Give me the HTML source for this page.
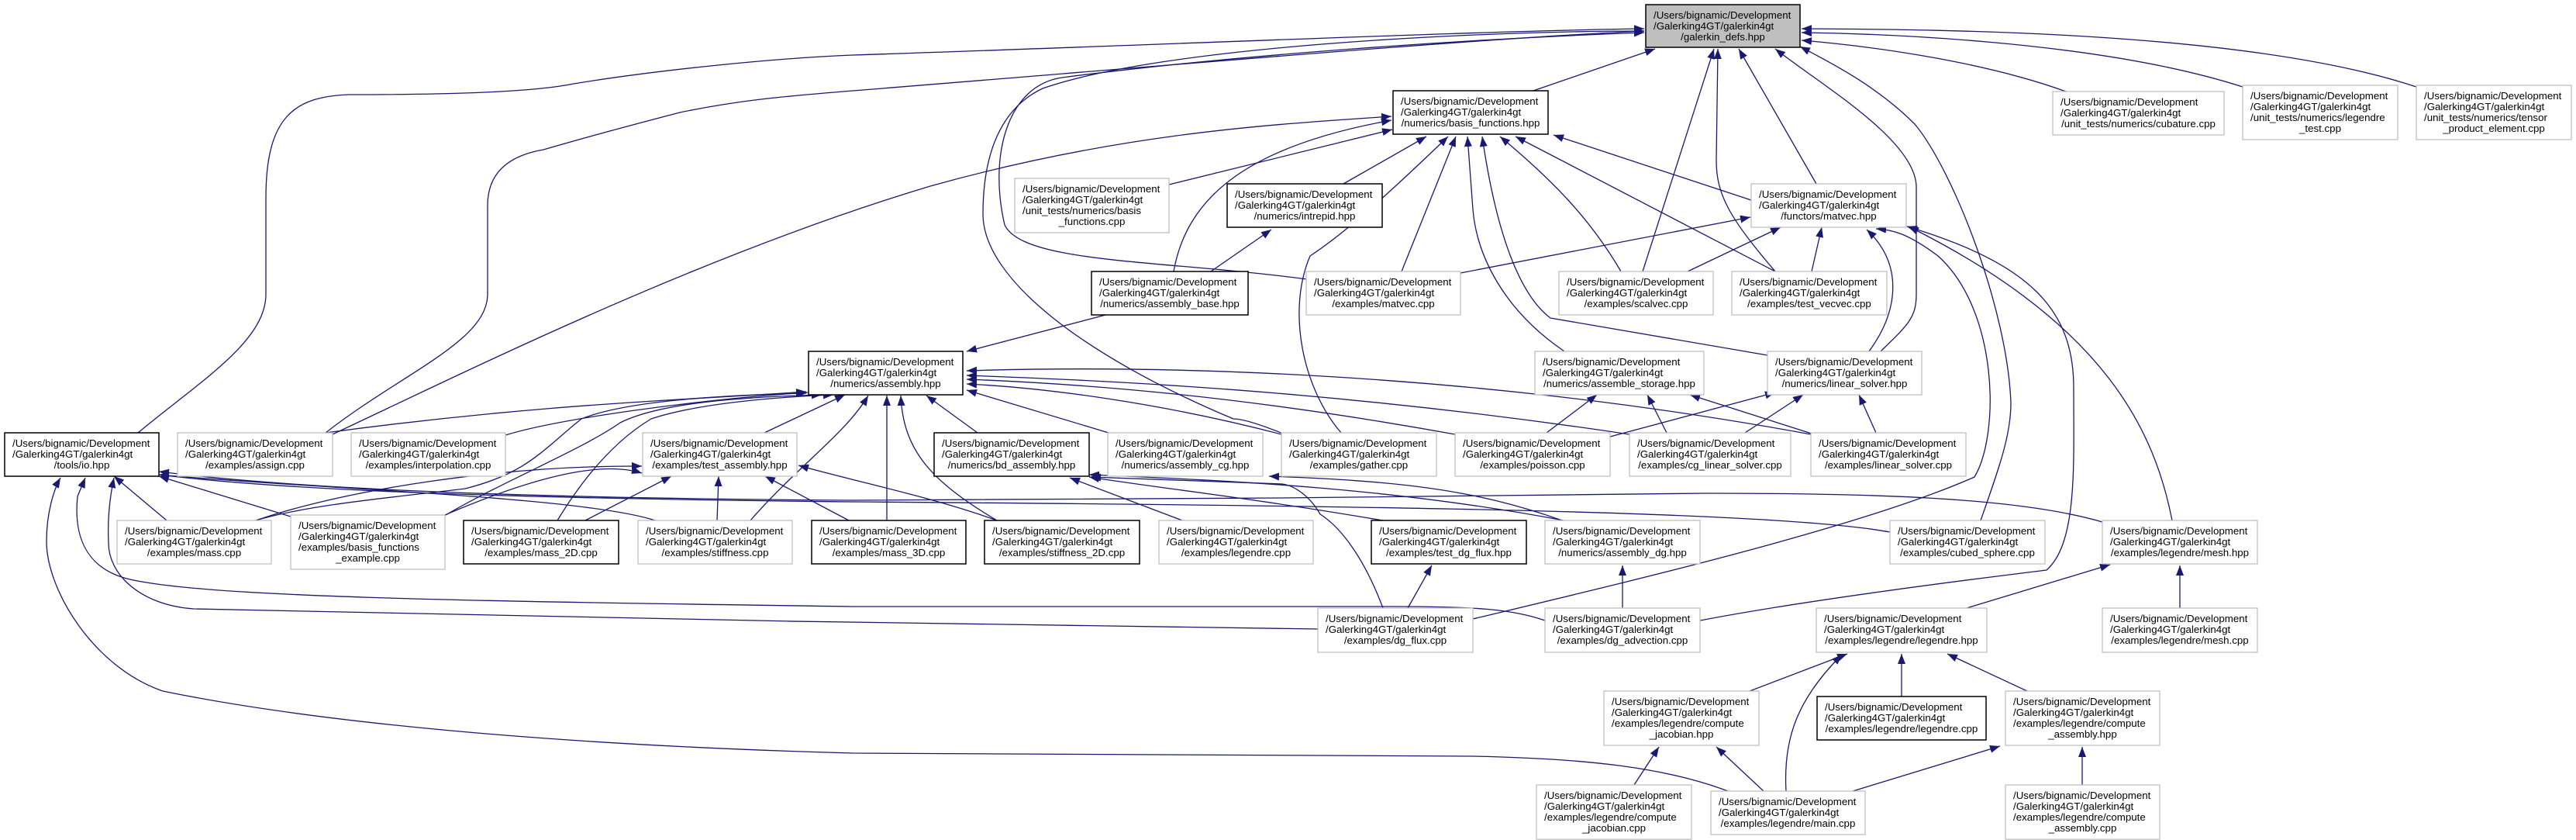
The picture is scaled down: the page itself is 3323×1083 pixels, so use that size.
<!DOCTYPE html>
<html><head><meta charset="utf-8"><style>
html,body{margin:0;padding:0;background:#fff}
svg{display:block}
text{font-family:"Liberation Sans",Arial,sans-serif;font-size:13.3px;fill:#000}
.n{fill:#fff;stroke:#bfbfbf;stroke-width:1.3}
.b{fill:#fff;stroke:#000;stroke-width:1.5}
.r{fill:#bfbfbf;stroke:#000;stroke-width:1.5}
path.e{fill:none;stroke:#191970;stroke-width:1.3;marker-end:url(#a)}
</style></head><body>
<svg width="3323" height="1083" viewBox="0 0 3323 1083" xmlns="http://www.w3.org/2000/svg">
<defs><marker id="a" markerUnits="userSpaceOnUse" markerWidth="14" markerHeight="12" refX="13" refY="5" orient="auto"><path d="M0,0 L13,5 L0,10 Z" fill="#191970"/></marker></defs>
<g>
<!-- edges to root -->
<path class="e" d="M1975,118 L2135,63"/>
<path class="e" d="M178,558 C260,490 343,440 343,379 L343,255 C343,150 380,125 449,122 C560,122 680,120 740,108 C850,90 1000,75 1100,71 C1500,58 1900,40 2121,37"/>
<path class="e" d="M420,558 C520,480 629,440 629,379 L629,265 C629,220 660,200 701,193 C780,170 820,160 877,145 C950,130 1000,125 1100,117 C1500,85 1900,50 2121,40"/>
<path class="e" d="M1686,360 C1500,335 1320,340 1296,290 C1275,200 1300,110 1370,100 C1600,70 1900,50 2121,42"/>
<path class="e" d="M1655,559 C1620,545 1600,540 1591,540 C1400,460 1268,360 1268,276 C1268,200 1290,140 1345,114 C1500,60 1900,40 2121,40"/>
<path class="e" d="M2119,350 L2211,63"/>
<path class="e" d="M2290,350 C2230,280 2214,250 2214,207 L2216,63"/>
<path class="e" d="M2343,237 L2243,63"/>
<path class="e" d="M2426,453 C2460,420 2472,410 2472,380 L2472,240 C2470,180 2350,110 2290,63"/>
<path class="e" d="M2555,671 C2580,600 2594,560 2594,520 C2590,400 2520,220 2470,160 C2420,110 2360,80 2322,60"/>
<path class="e" d="M2665,118 C2560,80 2420,60 2324,52"/>
<path class="e" d="M2893,112 C2700,50 2400,43 2324,42"/>
<path class="e" d="M3117,112 C2900,40 2500,38 2324,37"/>
<!-- to basis_functions -->
<path class="e" d="M1508,238 L1796,167"/>
<path class="e" d="M1733,237 L1840,176"/>
<path class="e" d="M1514,350 C1530,260 1600,190 1795,155"/>
<path class="e" d="M429,560 C600,480 900,330 1200,240 C1450,170 1650,160 1795,150"/>
<path class="e" d="M1808,350 L1878,176"/>
<path class="e" d="M2091,350 C2050,280 2000,230 1935,176"/>
<path class="e" d="M2290,350 L1955,176"/>
<path class="e" d="M2259,258 L2004,174"/>
<path class="e" d="M2018,453 C1940,400 1905,330 1900,270 L1893,176"/>
<path class="e" d="M2280,458 L2000,410 C1960,380 1930,300 1912,176"/>
<path class="e" d="M1730,558 C1680,500 1660,400 1690,330 C1720,310 1760,280 1868,176"/>
<!-- to matvec.hpp -->
<path class="e" d="M1884,352 L2258,280"/>
<path class="e" d="M2177,350 L2297,293"/>
<path class="e" d="M2337,350 L2350,293"/>
<path class="e" d="M2411,453 C2450,400 2455,340 2408,296"/>
<path class="e" d="M1900,798 C2100,750 2400,680 2547,615 C2580,560 2578,400 2500,330 C2460,300 2440,296 2420,295"/>
<path class="e" d="M2802,671 C2780,560 2720,420 2462,292"/>
<path class="e" d="M2193,800 C2350,770 2600,740 2640,735 C2680,700 2675,600 2675,500 C2675,400 2620,340 2460,292"/>
<!-- assemble_storage / linear_solver -->
<path class="e" d="M1995,558 L2060,509"/>
<path class="e" d="M2150,558 L2125,509"/>
<path class="e" d="M2340,560 L2180,509"/>
<path class="e" d="M2077,563 L2290,506"/>
<path class="e" d="M2251,558 L2326,509"/>
<path class="e" d="M2420,558 L2398,509"/>
<!-- to assembly.hpp -->
<path class="e" d="M1430,405 L1247,453"/>
<path class="e" d="M420,558 C700,520 900,515 1040,505"/>
<path class="e" d="M652,561 C720,540 900,515 1042,506"/>
<path class="e" d="M330,671 C400,650 520,640 600,630 C680,610 700,580 750,540 C800,520 900,510 1040,507"/>
<path class="e" d="M575,664 C650,620 750,580 800,545 C850,520 950,512 1060,509"/>
<path class="e" d="M719,671 C750,620 790,570 840,540 C900,520 1000,512 1075,509"/>
<path class="e" d="M986,558 L1090,509"/>
<path class="e" d="M968,671 C1030,600 1090,560 1120,510"/>
<path class="e" d="M1144,671 L1144,510"/>
<path class="e" d="M1286,671 C1200,620 1165,580 1162,510"/>
<path class="e" d="M1261,558 L1195,510"/>
<path class="e" d="M1430,558 L1247,503"/>
<path class="e" d="M1653,560 C1500,520 1350,500 1247,495"/>
<path class="e" d="M1877,560 C1600,510 1400,495 1247,489"/>
<path class="e" d="M2102,560 C1700,500 1400,490 1247,484"/>
<path class="e" d="M2336,560 C1900,480 1500,470 1247,478"/>
<!-- to test_assembly -->
<path class="e" d="M330,671 C450,630 650,600 828,601"/>
<path class="e" d="M574,664 C700,610 780,595 828,610"/>
<path class="e" d="M755,671 L866,614"/>
<path class="e" d="M925,671 L927,614"/>
<path class="e" d="M1095,671 L987,614"/>
<path class="e" d="M1286,671 C1200,640 1100,620 1030,600"/>
<!-- to io -->
<path class="e" d="M215,671 L147,614"/>
<path class="e" d="M375,666 L205,614"/>
<path class="e" d="M845,671 C750,640 400,630 205,612"/>
<path class="e" d="M2438,686 C2300,660 1800,652 1100,647 C600,642 350,630 205,612"/>
<path class="e" d="M2712,673 C2600,640 2400,636 2200,636 C1800,640 1500,645 1100,645 C600,642 350,626 205,608"/>
<path class="e" d="M1700,811 C1300,806 600,795 250,785 C180,780 140,740 140,700 C138,660 144,630 147,616"/>
<path class="e" d="M1993,800 C1950,785 1900,782 1800,782 L1100,782 C600,775 250,770 160,745 C110,730 95,690 100,640 L110,616"/>
<path class="e" d="M2229,1020 C2150,990 2050,978 1900,975 L1100,971 C700,960 400,930 210,891 C120,860 60,760 60,698 C60,660 70,630 78,616"/>
<!-- bd / acg -->
<path class="e" d="M1525,671 L1380,616"/>
<path class="e" d="M1784,671 C1600,640 1500,630 1405,615"/>
<path class="e" d="M2017,671 C1800,630 1600,620 1405,612"/>
<path class="e" d="M1784,784 C1760,720 1730,680 1703,663 C1690,640 1670,626 1654,624 L1407,615"/>
<path class="e" d="M2015,671 C1900,630 1800,620 1637,614"/>
<!-- lower -->
<path class="e" d="M1816,784 L1847,729"/>
<path class="e" d="M2093,784 L2093,729"/>
<path class="e" d="M2537,784 L2722,728"/>
<path class="e" d="M2812,784 L2812,729"/>
<path class="e" d="M2257,891 L2383,843"/>
<path class="e" d="M2453,898 L2453,843"/>
<path class="e" d="M2615,891 L2512,843"/>
<path class="e" d="M2304,1020 C2300,950 2320,900 2376,844"/>
<path class="e" d="M2108,1012 L2140,963"/>
<path class="e" d="M2275,1020 L2214,963"/>
<path class="e" d="M2390,1020 L2580,962"/>
<path class="e" d="M2686,1012 L2686,963"/>
<path class="e" d="M1562,350 L1640,296"/>
</g>
<g>
<rect class="r" x="2123" y="6" width="199" height="55"/><text x="2133" y="24">/Users/bignamic/Development</text><text x="2133" y="38">/Galerking4GT/galerkin4gt</text><text x="2222.5" y="52" text-anchor="middle">/galerkin_defs.hpp</text>
<rect class="b" x="1797" y="117" width="200" height="56"/><text x="1807" y="135">/Users/bignamic/Development</text><text x="1807" y="149">/Galerking4GT/galerkin4gt</text><text x="1897" y="163" text-anchor="middle">/numerics/basis_functions.hpp</text>
<rect class="n" x="2648" y="118" width="221" height="56"/><text x="2658" y="136">/Users/bignamic/Development</text><text x="2658" y="150">/Galerking4GT/galerkin4gt</text><text x="2758.5" y="164" text-anchor="middle">/unit_tests/numerics/cubature.cpp</text>
<rect class="n" x="2893" y="110" width="200" height="70"/><text x="2903" y="128">/Users/bignamic/Development</text><text x="2903" y="142">/Galerking4GT/galerkin4gt</text><text x="2903" y="156">/unit_tests/numerics/legendre</text><text x="2993" y="170" text-anchor="middle">_test.cpp</text>
<rect class="n" x="3117" y="110" width="200" height="70"/><text x="3127" y="128">/Users/bignamic/Development</text><text x="3127" y="142">/Galerking4GT/galerkin4gt</text><text x="3127" y="156">/unit_tests/numerics/tensor</text><text x="3217" y="170" text-anchor="middle">_product_element.cpp</text>
<rect class="n" x="1309" y="230" width="199" height="70"/><text x="1319" y="248">/Users/bignamic/Development</text><text x="1319" y="262">/Galerking4GT/galerkin4gt</text><text x="1319" y="276">/unit_tests/numerics/basis</text><text x="1408.5" y="290" text-anchor="middle">_functions.cpp</text>
<rect class="b" x="1583" y="237" width="200" height="56"/><text x="1593" y="255">/Users/bignamic/Development</text><text x="1593" y="269">/Galerking4GT/galerkin4gt</text><text x="1683" y="283" text-anchor="middle">/numerics/intrepid.hpp</text>
<rect class="n" x="2259" y="237" width="200" height="56"/><text x="2269" y="255">/Users/bignamic/Development</text><text x="2269" y="269">/Galerking4GT/galerkin4gt</text><text x="2359" y="283" text-anchor="middle">/functors/matvec.hpp</text>
<rect class="b" x="1408" y="350" width="202" height="56"/><text x="1418" y="368">/Users/bignamic/Development</text><text x="1418" y="382">/Galerking4GT/galerkin4gt</text><text x="1509" y="396" text-anchor="middle">/numerics/assembly_base.hpp</text>
<rect class="n" x="1685" y="350" width="199" height="56"/><text x="1695" y="368">/Users/bignamic/Development</text><text x="1695" y="382">/Galerking4GT/galerkin4gt</text><text x="1784.5" y="396" text-anchor="middle">/examples/matvec.cpp</text>
<rect class="n" x="2011" y="350" width="199" height="56"/><text x="2021" y="368">/Users/bignamic/Development</text><text x="2021" y="382">/Galerking4GT/galerkin4gt</text><text x="2110.5" y="396" text-anchor="middle">/examples/scalvec.cpp</text>
<rect class="n" x="2234" y="350" width="200" height="56"/><text x="2244" y="368">/Users/bignamic/Development</text><text x="2244" y="382">/Galerking4GT/galerkin4gt</text><text x="2334" y="396" text-anchor="middle">/examples/test_vecvec.cpp</text>
<rect class="b" x="1043" y="453" width="199" height="56"/><text x="1053" y="471">/Users/bignamic/Development</text><text x="1053" y="485">/Galerking4GT/galerkin4gt</text><text x="1142.5" y="499" text-anchor="middle">/numerics/assembly.hpp</text>
<rect class="n" x="1980" y="453" width="218" height="56"/><text x="1990" y="471">/Users/bignamic/Development</text><text x="1990" y="485">/Galerking4GT/galerkin4gt</text><text x="2089" y="499" text-anchor="middle">/numerics/assemble_storage.hpp</text>
<rect class="n" x="2280" y="453" width="199" height="56"/><text x="2290" y="471">/Users/bignamic/Development</text><text x="2290" y="485">/Galerking4GT/galerkin4gt</text><text x="2379.5" y="499" text-anchor="middle">/numerics/linear_solver.hpp</text>

<rect class="b" x="6" y="558" width="199" height="56"/><text x="16" y="576">/Users/bignamic/Development</text><text x="16" y="590">/Galerking4GT/galerkin4gt</text><text x="105.5" y="604" text-anchor="middle">/tools/io.hpp</text>
<rect class="n" x="229" y="558" width="200" height="56"/><text x="239" y="576">/Users/bignamic/Development</text><text x="239" y="590">/Galerking4GT/galerkin4gt</text><text x="329" y="604" text-anchor="middle">/examples/assign.cpp</text>
<rect class="n" x="453" y="558" width="199" height="56"/><text x="463" y="576">/Users/bignamic/Development</text><text x="463" y="590">/Galerking4GT/galerkin4gt</text><text x="552.5" y="604" text-anchor="middle">/examples/interpolation.cpp</text>
<rect class="n" x="829" y="558" width="199" height="56"/><text x="839" y="576">/Users/bignamic/Development</text><text x="839" y="590">/Galerking4GT/galerkin4gt</text><text x="928.5" y="604" text-anchor="middle">/examples/test_assembly.hpp</text>
<rect class="b" x="1205" y="558" width="200" height="56"/><text x="1215" y="576">/Users/bignamic/Development</text><text x="1215" y="590">/Galerking4GT/galerkin4gt</text><text x="1305" y="604" text-anchor="middle">/numerics/bd_assembly.hpp</text>
<rect class="n" x="1429" y="558" width="200" height="56"/><text x="1439" y="576">/Users/bignamic/Development</text><text x="1439" y="590">/Galerking4GT/galerkin4gt</text><text x="1529" y="604" text-anchor="middle">/numerics/assembly_cg.hpp</text>
<rect class="n" x="1653" y="558" width="200" height="56"/><text x="1663" y="576">/Users/bignamic/Development</text><text x="1663" y="590">/Galerking4GT/galerkin4gt</text><text x="1753" y="604" text-anchor="middle">/examples/gather.cpp</text>
<rect class="n" x="1877" y="558" width="200" height="56"/><text x="1887" y="576">/Users/bignamic/Development</text><text x="1887" y="590">/Galerking4GT/galerkin4gt</text><text x="1977" y="604" text-anchor="middle">/examples/poisson.cpp</text>
<rect class="n" x="2102" y="558" width="208" height="56"/><text x="2112" y="576">/Users/bignamic/Development</text><text x="2112" y="590">/Galerking4GT/galerkin4gt</text><text x="2206" y="604" text-anchor="middle">/examples/cg_linear_solver.cpp</text>
<rect class="n" x="2336" y="558" width="200" height="56"/><text x="2346" y="576">/Users/bignamic/Development</text><text x="2346" y="590">/Galerking4GT/galerkin4gt</text><text x="2436" y="604" text-anchor="middle">/examples/linear_solver.cpp</text>

<rect class="n" x="151" y="671" width="199" height="56"/><text x="161" y="689">/Users/bignamic/Development</text><text x="161" y="703">/Galerking4GT/galerkin4gt</text><text x="250.5" y="717" text-anchor="middle">/examples/mass.cpp</text>
<rect class="n" x="375" y="664" width="199" height="70"/><text x="385" y="682">/Users/bignamic/Development</text><text x="385" y="696">/Galerking4GT/galerkin4gt</text><text x="385" y="710">/examples/basis_functions</text><text x="474.5" y="724" text-anchor="middle">_example.cpp</text>
<rect class="b" x="598" y="671" width="200" height="56"/><text x="608" y="689">/Users/bignamic/Development</text><text x="608" y="703">/Galerking4GT/galerkin4gt</text><text x="698" y="717" text-anchor="middle">/examples/mass_2D.cpp</text>
<rect class="n" x="823" y="671" width="199" height="56"/><text x="833" y="689">/Users/bignamic/Development</text><text x="833" y="703">/Galerking4GT/galerkin4gt</text><text x="922.5" y="717" text-anchor="middle">/examples/stiffness.cpp</text>
<rect class="b" x="1047" y="671" width="199" height="56"/><text x="1057" y="689">/Users/bignamic/Development</text><text x="1057" y="703">/Galerking4GT/galerkin4gt</text><text x="1146.5" y="717" text-anchor="middle">/examples/mass_3D.cpp</text>
<rect class="b" x="1270" y="671" width="200" height="56"/><text x="1280" y="689">/Users/bignamic/Development</text><text x="1280" y="703">/Galerking4GT/galerkin4gt</text><text x="1370" y="717" text-anchor="middle">/examples/stiffness_2D.cpp</text>
<rect class="n" x="1495" y="671" width="199" height="56"/><text x="1505" y="689">/Users/bignamic/Development</text><text x="1505" y="703">/Galerking4GT/galerkin4gt</text><text x="1594.5" y="717" text-anchor="middle">/examples/legendre.cpp</text>
<rect class="b" x="1769" y="671" width="200" height="56"/><text x="1779" y="689">/Users/bignamic/Development</text><text x="1779" y="703">/Galerking4GT/galerkin4gt</text><text x="1869" y="717" text-anchor="middle">/examples/test_dg_flux.hpp</text>
<rect class="n" x="1993" y="671" width="200" height="56"/><text x="2003" y="689">/Users/bignamic/Development</text><text x="2003" y="703">/Galerking4GT/galerkin4gt</text><text x="2093" y="717" text-anchor="middle">/numerics/assembly_dg.hpp</text>
<rect class="n" x="2438" y="671" width="200" height="56"/><text x="2448" y="689">/Users/bignamic/Development</text><text x="2448" y="703">/Galerking4GT/galerkin4gt</text><text x="2538" y="717" text-anchor="middle">/examples/cubed_sphere.cpp</text>
<rect class="n" x="2712" y="671" width="200" height="56"/><text x="2722" y="689">/Users/bignamic/Development</text><text x="2722" y="703">/Galerking4GT/galerkin4gt</text><text x="2812" y="717" text-anchor="middle">/examples/legendre/mesh.hpp</text>

<rect class="n" x="1700" y="784" width="200" height="57"/><text x="1710" y="802">/Users/bignamic/Development</text><text x="1710" y="816">/Galerking4GT/galerkin4gt</text><text x="1800" y="830" text-anchor="middle">/examples/dg_flux.cpp</text>
<rect class="n" x="1993" y="784" width="200" height="57"/><text x="2003" y="802">/Users/bignamic/Development</text><text x="2003" y="816">/Galerking4GT/galerkin4gt</text><text x="2093" y="830" text-anchor="middle">/examples/dg_advection.cpp</text>
<rect class="n" x="2343" y="784" width="220" height="57"/><text x="2353" y="802">/Users/bignamic/Development</text><text x="2353" y="816">/Galerking4GT/galerkin4gt</text><text x="2453" y="830" text-anchor="middle">/examples/legendre/legendre.hpp</text>
<rect class="n" x="2712" y="784" width="200" height="57"/><text x="2722" y="802">/Users/bignamic/Development</text><text x="2722" y="816">/Galerking4GT/galerkin4gt</text><text x="2812" y="830" text-anchor="middle">/examples/legendre/mesh.cpp</text>

<rect class="n" x="2069" y="891" width="200" height="70"/><text x="2079" y="909">/Users/bignamic/Development</text><text x="2079" y="923">/Galerking4GT/galerkin4gt</text><text x="2079" y="937">/examples/legendre/compute</text><text x="2169" y="951" text-anchor="middle">_jacobian.hpp</text>
<rect class="b" x="2344" y="898" width="218" height="56"/><text x="2354" y="916">/Users/bignamic/Development</text><text x="2354" y="930">/Galerking4GT/galerkin4gt</text><text x="2453" y="944" text-anchor="middle">/examples/legendre/legendre.cpp</text>
<rect class="n" x="2587" y="891" width="199" height="70"/><text x="2597" y="909">/Users/bignamic/Development</text><text x="2597" y="923">/Galerking4GT/galerkin4gt</text><text x="2597" y="937">/examples/legendre/compute</text><text x="2686.5" y="951" text-anchor="middle">_assembly.hpp</text>

<rect class="n" x="1982" y="1012" width="200" height="70"/><text x="1992" y="1030">/Users/bignamic/Development</text><text x="1992" y="1044">/Galerking4GT/galerkin4gt</text><text x="1992" y="1058">/examples/legendre/compute</text><text x="2082" y="1072" text-anchor="middle">_jacobian.cpp</text>
<rect class="n" x="2207" y="1020" width="199" height="56"/><text x="2217" y="1038">/Users/bignamic/Development</text><text x="2217" y="1052">/Galerking4GT/galerkin4gt</text><text x="2306.5" y="1066" text-anchor="middle">/examples/legendre/main.cpp</text>
<rect class="n" x="2587" y="1012" width="199" height="70"/><text x="2597" y="1030">/Users/bignamic/Development</text><text x="2597" y="1044">/Galerking4GT/galerkin4gt</text><text x="2597" y="1058">/examples/legendre/compute</text><text x="2686.5" y="1072" text-anchor="middle">_assembly.cpp</text>
</g>
</svg>
</body></html>
